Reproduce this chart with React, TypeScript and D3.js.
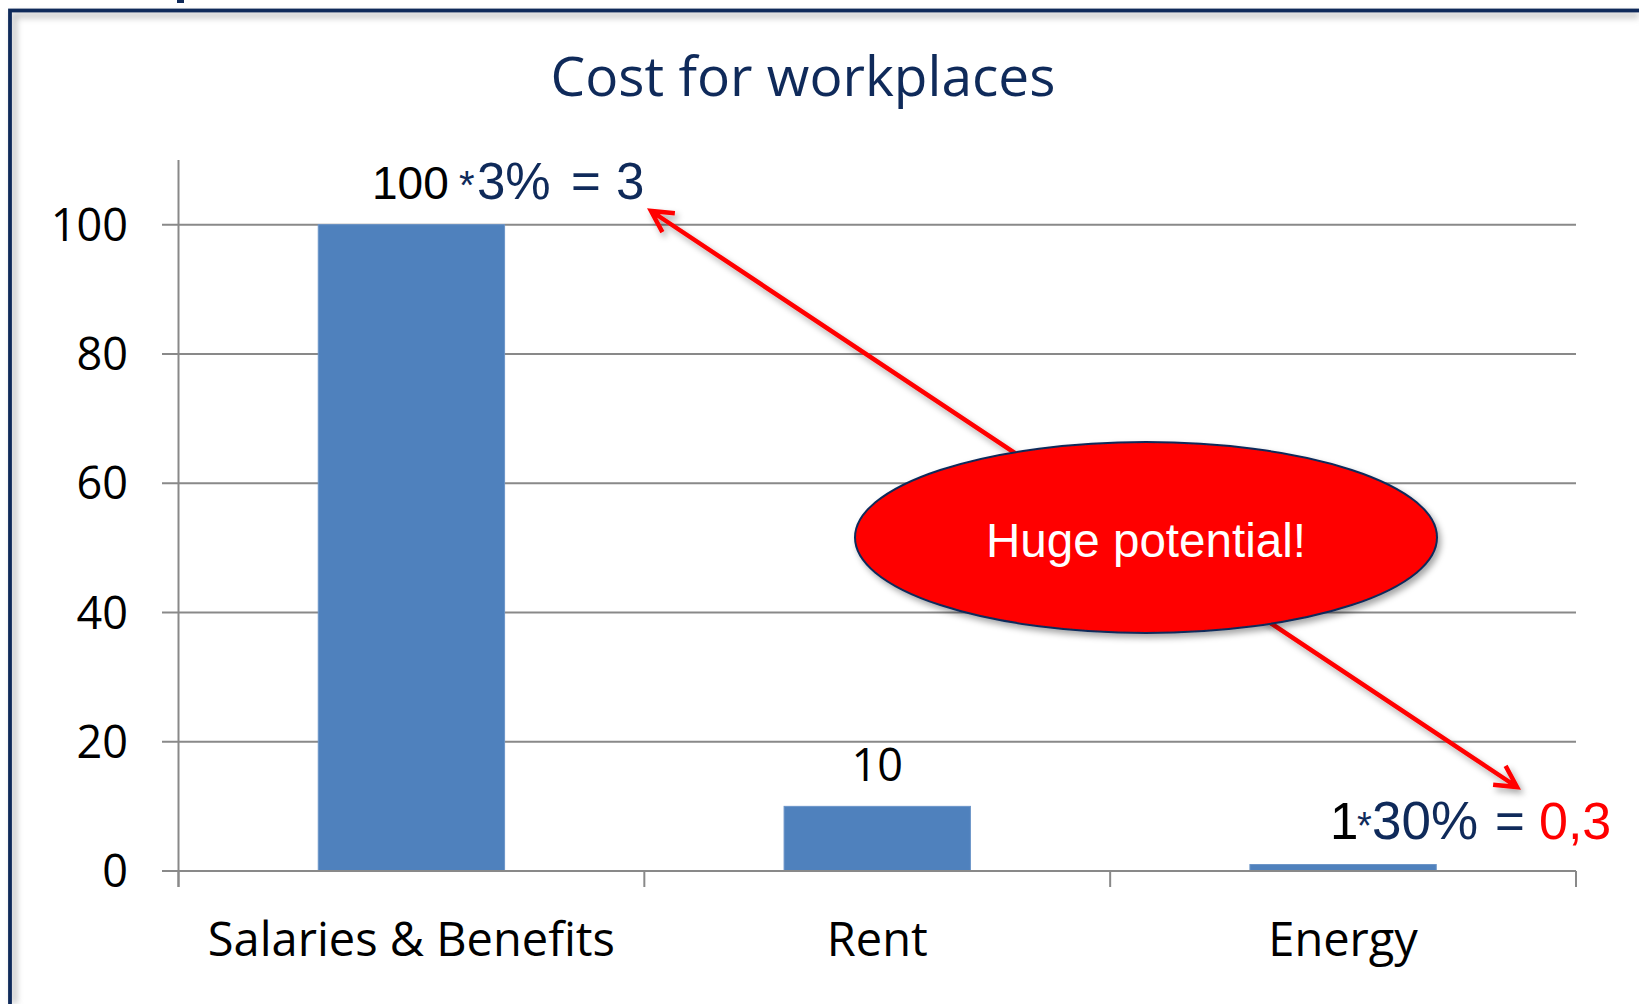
import React from "react";
import * as d3 from "d3";

const categories = ["Salaries & Benefits", "Rent", "Energy"];
const values = [100, 10, 1];
const yTicks = [0, 20, 40, 60, 80, 100];
const titleText = "Cost for workplaces";
const rentLabel = "10";
const calloutText = "Huge potential!";

const NAVY = "#0f2a5a";
const BAR = "#4f81bd";
const GRID = "#898989";
const SANS = "'Open Sans', sans-serif";
const ARIAL = "'Liberation Sans', Arial, sans-serif";

export default function App() {
  const W = 1639;
  const H = 1004;
  const x = d3
    .scaleBand<string>()
    .domain(categories)
    .range([178.5, 1576])
    .paddingInner(0.6)
    .paddingOuter(0.3);
  const y = d3.scaleLinear().domain([0, 110]).range([871, 160]);
  const step = x.step();
  const tickXs = d3.range(categories.length + 1).map((i) => 178.5 + i * step);

  // arrow geometry
  const tipA: [number, number] = [651, 211];
  const tipB: [number, number] = [1517, 787];
  const ang = Math.atan2(tipB[1] - tipA[1], tipB[0] - tipA[0]);
  const barb = 24;
  const spread = (28 * Math.PI) / 180;
  const barbs = (tip: [number, number], dir: number) => {
    const a1 = dir + spread;
    const a2 = dir - spread;
    return `M${tip[0] + barb * Math.cos(a1)},${tip[1] + barb * Math.sin(a1)} L${tip[0]},${tip[1]} L${tip[0] + barb * Math.cos(a2)},${tip[1] + barb * Math.sin(a2)}`;
  };
  const arrowPath = `M${tipA[0]},${tipA[1]} L${tipB[0]},${tipB[1]} ${barbs(tipA, ang)} ${barbs(tipB, ang + Math.PI)}`;

  return (
    <svg
      width={W}
      height={H}
      style={{ position: "absolute", left: 0, top: 0, background: "#fff" }}
    >
      <defs>
        <filter id="shadow" x="-20%" y="-20%" width="140%" height="140%">
          <feDropShadow dx="3" dy="4" stdDeviation="3" floodColor="#000" floodOpacity="0.35" />
        </filter>
        <filter id="blur" x="-5%" y="-5%" width="110%" height="110%">
          <feGaussianBlur stdDeviation="3" />
        </filter>
      </defs>

      {/* frame */}
      <path d="M14,1004 L14,15 L1639,15" fill="none" stroke="#c8c8c8" strokeWidth={6} filter="url(#blur)" />
      <rect x={10} y={10.5} width={2000} height={2000} fill="none" stroke={NAVY} strokeWidth={3.8} />
      <rect x={177} y={0} width={7} height={3} fill={NAVY} />

      {/* title */}
      <text x={803} y={96} textAnchor="middle" fontFamily={SANS} fontSize={55} fill={NAVY}>
        {titleText}
      </text>

      {/* gridlines */}
      {yTicks
        .filter((t) => t > 0)
        .map((t) => (
          <line key={t} x1={162} x2={1576} y1={y(t)} y2={y(t)} stroke={GRID} strokeWidth={2} />
        ))}

      {/* bars */}
      {categories.map((c, i) => (
        <rect
          key={c}
          x={x(c)}
          y={y(values[i])}
          width={x.bandwidth()}
          height={y(0) - y(values[i])}
          fill={BAR}
          stroke="#6b95c8"
          strokeWidth={1}
        />
      ))}

      {/* axes */}
      <line x1={162} x2={1576} y1={y(0)} y2={y(0)} stroke={GRID} strokeWidth={2} />
      <line x1={178.5} x2={178.5} y1={160} y2={887} stroke={GRID} strokeWidth={2} />
      {tickXs.map((tx, i) => (
        <line key={i} x1={tx} x2={tx} y1={y(0)} y2={887} stroke={GRID} strokeWidth={2} />
      ))}

      {/* y tick labels */}
      {yTicks.map((t) => (
        <text key={t} x={128} y={y(t)} dy="0.36em" textAnchor="end" fontFamily={SANS} fontSize={45} fill="#000">
          {t}
        </text>
      ))}

      {/* category labels */}
      {categories.map((c) => (
        <text
          key={c}
          x={(x(c) as number) + x.bandwidth() / 2}
          y={956}
          textAnchor="middle"
          fontFamily={SANS}
          fontSize={47}
          fill="#000"
        >
          {c}
        </text>
      ))}

      {/* data labels */}
      <text x={(x("Rent") as number) + x.bandwidth() / 2} y={781} textAnchor="middle" fontFamily={SANS} fontSize={45} fill="#000">
        {rentLabel}
      </text>

      <text y={199} fontFamily={ARIAL} fontSize={46}>
        <tspan x={372} fill="#000">100</tspan>
        <tspan x={459} fill={NAVY} fontSize={40}>*</tspan>
        <tspan x={477} fill={NAVY} fontSize={51}>3%</tspan>
        <tspan x={571} fill={NAVY} fontSize={51}>=</tspan>
        <tspan x={616} fill={NAVY} fontSize={51}>3</tspan>
      </text>

      <text y={839} fontFamily={ARIAL} fontSize={51}>
        <tspan x={1330} fill="#000">1</tspan>
        <tspan x={1357} fill={NAVY} fontSize={38}>*</tspan>
        <tspan x={1372} fill={NAVY} fontSize={53}>30%</tspan>
        <tspan x={1495} fill={NAVY}>=</tspan>
        <tspan x={1539} fill="#ff0000" fontSize={52}>0,3</tspan>
      </text>

      {/* arrow */}
      <path
        d={arrowPath}
        fill="none"
        stroke="#ff0000"
        strokeWidth={4.5}
        strokeLinejoin="miter"
        filter="url(#shadow)"
      />

      {/* callout ellipse */}
      <ellipse cx={1146} cy={537.5} rx={291} ry={95.5} fill="#ff0000" stroke={NAVY} strokeWidth={2} filter="url(#shadow)" />
      <text x={1146} y={540} dy="0.36em" textAnchor="middle" fontFamily={ARIAL} fontSize={48} fill="#fff" textLength={320} lengthAdjust="spacingAndGlyphs">
        {calloutText}
      </text>
    </svg>
  );
}
